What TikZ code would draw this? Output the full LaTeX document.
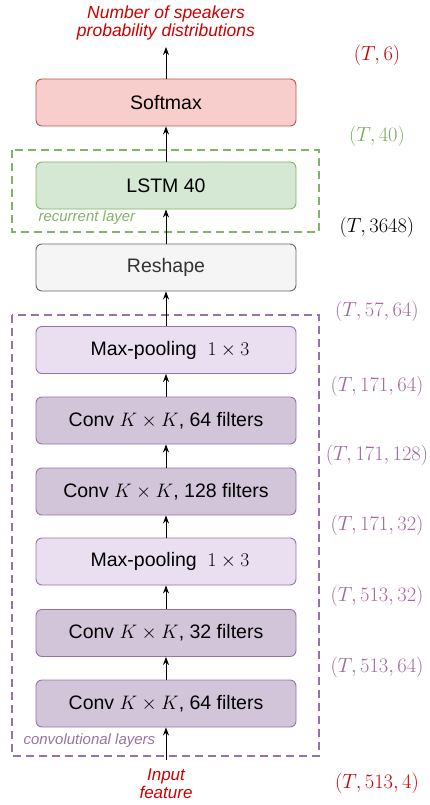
\RequirePackage{fix-cm}
\documentclass[tikz,border=0pt]{standalone}
\usepackage{fontspec}
\setmainfont{Liberation Sans}
\usetikzlibrary{arrows.meta}
\definecolor{redfill}{HTML}{F8CECC}
\definecolor{redline}{HTML}{B85450}
\definecolor{greenfill}{HTML}{D5E8D4}
\definecolor{greenline}{HTML}{82B366}
\definecolor{greyfill}{HTML}{F5F5F5}
\definecolor{greyline}{HTML}{666666}
\definecolor{greytext}{HTML}{333333}
\definecolor{poolfill}{HTML}{EADFF0}
\definecolor{convfill}{HTML}{D2C5DA}
\definecolor{purpleline}{HTML}{9673A6}
\definecolor{mauve}{HTML}{A0699A}
\definecolor{redtext}{HTML}{CC0000}
\definecolor{greenlabel}{HTML}{7AAB5E}
\begin{document}
\begin{tikzpicture}[x=1pt,y=-1pt,
  layerbox/.style={rounded corners=6pt, line width=0.9pt, minimum width=260pt, minimum height=47pt,
    inner sep=0pt, font=\fontsize{19.5}{22}\selectfont},
  softbox/.style={layerbox, fill=redfill, draw=redline},
  lstmbox/.style={layerbox, fill=greenfill, draw=greenline},
  reshapebox/.style={layerbox, fill=greyfill, draw=greyline, text=greytext},
  poolbox/.style={layerbox, fill=poolfill, draw=purpleline},
  convbox/.style={layerbox, fill=convfill, draw=purpleline},
  groupbox/.style={dashed, dash pattern=on 8pt off 5pt, line width=2pt},
  flow/.style={-{Stealth[length=8pt,width=6pt]}, line width=0.9pt, black},
  dimlabel/.style={font=\fontsize{20.5}{24}\selectfont},
  redlabel/.style={text=redtext, font=\fontsize{17.5}{21}\selectfont\itshape, align=center},
  grouplabel/.style={font=\fontsize{15}{18}\selectfont\itshape, anchor=west}
]
\useasboundingbox (0,0) rectangle (430,805);

% group boxes
\draw[groupbox, draw=greenline] (12,150) rectangle (319,232);
\draw[groupbox, draw=purpleline] (12,315) rectangle (319,756);

% layers
\node[softbox] (soft) at (166,102.5) {Softmax};
\node[lstmbox] (lstm) at (166,185.5) {LSTM 40};
\node[reshapebox] (reshape) at (166,267.5) {Reshape};
\node[poolbox] (pool2) at (166,350) {\hspace{8pt}Max-pooling \ $1\times 3$};
\node[convbox] (conv4) at (166,420.5) {Conv $K\times K$, 64 filters};
\node[convbox] (conv3) at (166,491.5) {Conv $K\times K$, 128 filters};
\node[poolbox] (pool1) at (166,561.5) {\hspace{8pt}Max-pooling \ $1\times 3$};
\node[convbox] (conv2) at (166,633) {Conv $K\times K$, 32 filters};
\node[convbox] (conv1) at (166,703.5) {Conv $K\times K$, 64 filters};

% input / output text
\node[redlabel] (out) at (166,23) {Number of speakers\\[-3pt]probability distributions};
\node[redlabel, font=\fontsize{17}{20}\selectfont\itshape] (in) at (166,784) {Input\\[-2pt]feature};
\coordinate (outtip) at (166,47);
\coordinate (intail) at (166,760);

% connectors
\draw[flow] (soft.north) -- (outtip);
\draw[flow] (lstm.north) -- (soft.south);
\draw[flow] (reshape.north) -- (lstm.south);
\draw[flow] (pool2.north) -- (reshape.south);
\draw[flow] (conv4.north) -- (pool2.south);
\draw[flow] (conv3.north) -- (conv4.south);
\draw[flow] (pool1.north) -- (conv3.south);
\draw[flow] (conv2.north) -- (pool1.south);
\draw[flow] (conv1.north) -- (conv2.south);
\draw[flow] (intail) -- (conv1.south);

% group labels
\node[grouplabel, text=greenline] (reclab) at (35,218) {recurrent layer};
\node[grouplabel, text=purpleline] (convlab) at (20,741) {convolutional layers};

% dimension labels
\node[dimlabel, text=redtext] (d1) at (377,55) {$(T,6)$};
\node[dimlabel, text=greenlabel] (d2) at (377,136) {$(T,40)$};
\node[dimlabel, text=black] (d3) at (377,227) {$(T,3648)$};
\node[dimlabel, text=mauve] (d4) at (377,311) {$(T,57,64)$};
\node[dimlabel, text=mauve] (d5) at (377,386) {$(T,171,64)$};
\node[dimlabel, text=mauve] (d6) at (377,455) {$(T,171,128)$};
\node[dimlabel, text=mauve] (d7) at (377,525) {$(T,171,32)$};
\node[dimlabel, text=mauve] (d8) at (377,596) {$(T,513,32)$};
\node[dimlabel, text=mauve] (d9) at (377,667) {$(T,513,64)$};
\node[dimlabel, text=redtext] (d10) at (377,783) {$(T,513,4)$};
\end{tikzpicture}
\end{document}
